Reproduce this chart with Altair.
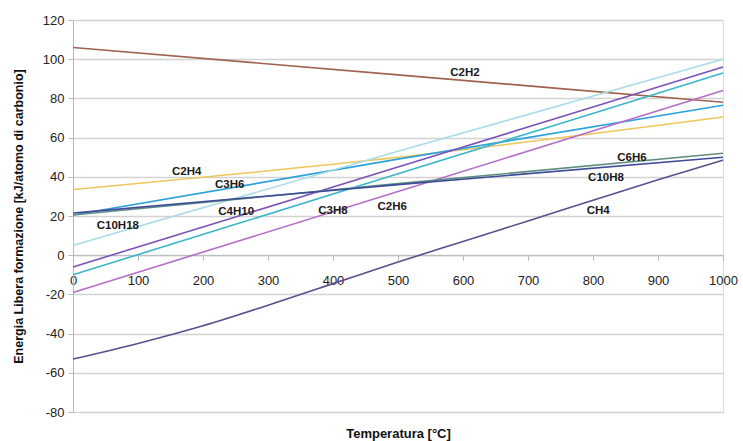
import altair as alt
import pandas as pd

temps3 = [0, 500, 1000]
series_lin = {
    "C2H2": [106, 92, 78],
    "C2H4": [33.5, 50, 70.5],
    "C3H6": [20.5, 49, 76.5],
    "C10H18": [5, 53, 100],
    "C4H10": [-6, 45, 96],
    "C3H8": [-10, 41.5, 93],
    "C2H6": [-19, 32.5, 84],
    "C6H6": [20.5, 36.5, 52],
    "C10H8": [21.5, 36, 50],
}
ch4_temps = [0, 100, 200, 300, 400, 500, 600, 700, 800, 900, 1000]
ch4_vals = [-53, -45, -36, -25.5, -14.5, -3.5, 7, 17.5, 28, 38.5, 48.5]

names = ["C2H2", "C2H4", "C3H6", "C10H18", "C4H10", "C3H8", "C2H6", "C6H6", "C10H8", "CH4"]
colors = ["#a0634f", "#eec65a", "#2ba2da", "#a9dbe8", "#7d52b8", "#3bb5c9",
          "#b56dc8", "#5f8f80", "#3f4c9c", "#5b4e8f"]

label_names = ["C2H2", "C2H4", "C3H6", "C10H18", "C4H10", "C3H8", "C2H6", "C6H6", "C10H8", "CH4"]
label_t = [603, 175, 241, 69, 251, 400, 491, 860, 820, 808]
label_v = [92.9, 42.3, 35.7, 14.8, 21.9, 22.4, 24.5, 49.5, 39.3, 22.4]

x_ticks = list(range(0, 1001, 100))
y_ticks = list(range(-80, 121, 20))

rows = []
for n, vals in series_lin.items():
    for t, v in zip(temps3, vals):
        rows.append({"serie": n, "T": t, "G": v})
for t, v in zip(ch4_temps, ch4_vals):
    rows.append({"serie": "CH4", "T": t, "G": v})
df = pd.DataFrame(rows)
lab = pd.DataFrame({"name": label_names, "T": label_t, "G": label_v})

xscale = alt.Scale(domain=[0, 1000], nice=False)
yscale = alt.Scale(domain=[-80, 120], nice=False)

xaxis = alt.Axis(
    title="Temperatura [°C]", values=x_ticks, labelExpr="toString(datum.value)", grid=False,
    offset=-156.8, domainColor="#b8b8b8", tickColor="#b8b8b8", tickSize=5,
    labelPadding=14, labelFlush=False, labelOverlap=False,
    labelFont="Liberation Sans", labelFontSize=13,
    labelColor="#222", titleFont="Liberation Sans", titleFontSize=13, titleFontWeight="bold",
    titleColor="#111", titleY=178, titleBaseline="middle")
yaxis = alt.Axis(
    title="Energia Libera formazione [kJ/atomo di carbonio]", values=y_ticks,
    labelExpr="toString(datum.value)", labelOverlap=False,
    grid=True, gridColor="#d2d2d2", gridWidth=1.5, domainColor="#b8b8b8", tickColor="#b8b8b8",
    tickSize=5, labelPadding=4, labelFont="Liberation Sans", labelFontSize=13, labelColor="#222",
    titleFont="Liberation Sans", titleFontSize=12.5, titleFontWeight="bold", titleColor="#111",
    titleX=-55, titleY=196, titleAngle=-90, titleAlign="center", titleBaseline="middle")

lines = alt.Chart(df).mark_line(strokeWidth=1.6, interpolate="monotone").encode(
    x=alt.X("T:Q", scale=xscale, axis=xaxis),
    y=alt.Y("G:Q", scale=yscale, axis=yaxis),
    color=alt.Color("serie:N", scale=alt.Scale(domain=names, range=colors), legend=None),
    detail="serie:N",
)

texts = alt.Chart(lab).mark_text(font="Liberation Sans", fontSize=11.5, fontWeight="bold",
                                 color="#1a1a1a").encode(
    x=alt.X("T:Q", scale=xscale, axis=xaxis), y=alt.Y("G:Q", scale=yscale, axis=yaxis),
    text="name:N")

chart = (lines + texts).properties(
    width=650, height=392,
    autosize=alt.AutoSizeParams(type="none"),
    padding={"left": 73, "top": 20, "right": 20, "bottom": 29},
).configure_view(stroke="#c4c4c4", strokeWidth=1.5).configure(background="white")

chart.save("out.html", embed_options={"renderer": "svg", "actions": False})
